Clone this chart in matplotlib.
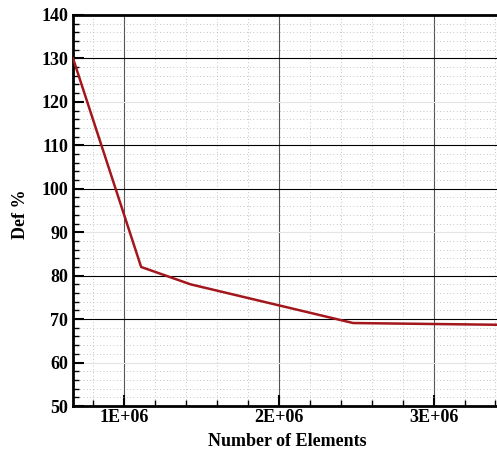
import matplotlib
matplotlib.use("Agg")
import matplotlib.pyplot as plt
from matplotlib.ticker import MultipleLocator, FixedLocator, FixedFormatter

# mesh study: number of elements vs deficit
n_elements = [0.67e6, 1.11e6, 1.43e6, 2.48e6, 3.41e6]
def_pct = [130.0, 82.0, 78.0, 69.1, 68.7]

xticks = [1e6, 2e6, 3e6]
xtick_labels = ["1E+06", "2E+06", "3E+06"]
yticks = [50, 60, 70, 80, 90, 100, 110, 120, 130, 140]

plt.rcParams['font.family'] = ['Liberation Serif', 'DejaVu Serif']
plt.rcParams['font.weight'] = 'bold'

fig = plt.figure(figsize=(4.97, 4.54), dpi=100)
ax = fig.add_axes([0.147, 0.1057, 0.853, 0.8613])

ax.plot(n_elements, def_pct, '-', color='#a3161c', lw=1.8, zorder=5)

ax.set_xlim(0.67e6, 3.41e6)
ax.set_ylim(50, 140)

ax.xaxis.set_major_locator(FixedLocator(xticks))
ax.xaxis.set_major_formatter(FixedFormatter(xtick_labels))
ax.xaxis.set_minor_locator(MultipleLocator(0.2e6))
ax.yaxis.set_major_locator(FixedLocator(yticks))
ax.yaxis.set_minor_locator(MultipleLocator(2))

ax.tick_params(which='both', direction='in', labelsize=13, width=1.5)
ax.tick_params(which='major', length=8)
ax.tick_params(which='minor', length=4, width=1)
ax.tick_params(axis='x', pad=2)
for lab in ax.get_xticklabels() + ax.get_yticklabels():
    lab.set_fontweight('bold')

# minor dotted grid, then major grid
ax.grid(which='minor', color='#b0b0b0', linestyle=(0, (1, 3)), lw=0.6)
ax.grid(which='major', color='black', linestyle='-', lw=0.8)
faint = {60, 90, 120, 50, 140}
for val, gl in zip(yticks, ax.get_ygridlines()):
    if val in faint:
        gl.set_color('#e4e4e4')
for gl in ax.get_xgridlines():
    gl.set_color('#555555')

for side in ['left', 'bottom', 'top']:
    ax.spines[side].set_linewidth(2)
ax.spines['right'].set_visible(False)

ax.set_xlabel("Number of Elements", fontsize=13, fontweight='bold')
ax.set_ylabel("Def %", fontsize=13, fontweight='bold')
ax.xaxis.set_label_coords((287 - 73) / 424, -0.068)
ax.yaxis.set_label_coords(-0.105, 0.49)

fig.savefig("out.png", dpi=100)
